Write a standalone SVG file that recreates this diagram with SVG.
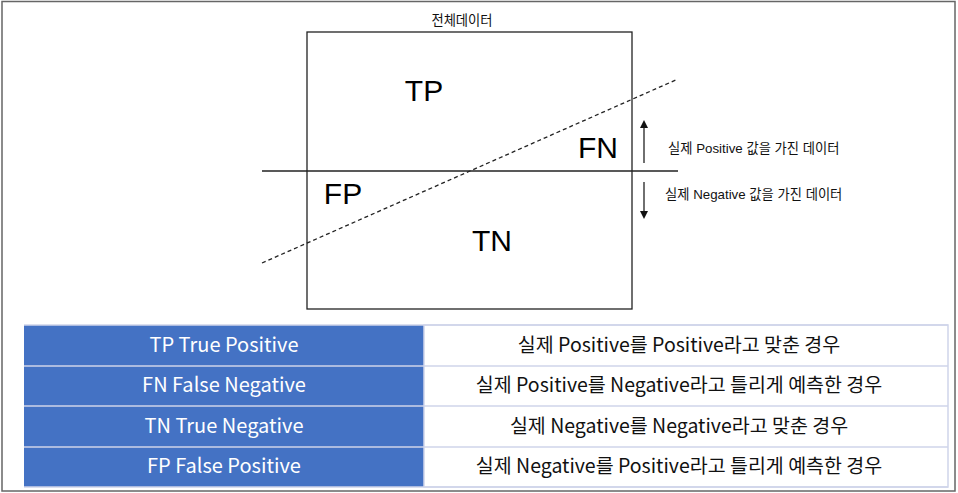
<svg xmlns="http://www.w3.org/2000/svg" width="958" height="493" viewBox="0 0 958 493">
<style>
.big{font-family:"Liberation Sans",Arial,sans-serif;font-size:30px;fill:#000;text-anchor:middle}
.small{font-family:"Liberation Sans","Noto Sans CJK KR",sans-serif;font-size:13.3px;fill:#111}
.hd{font-family:"Noto Sans CJK KR",sans-serif;font-size:20px;fill:#fff;text-anchor:middle}
.cell{font-family:"Noto Sans CJK KR",sans-serif;font-size:19.5px;fill:#111;text-anchor:middle}
.ln{stroke:#222;stroke-width:1.3;fill:none}
</style>
<defs>
<marker id="ah" markerWidth="8" markerHeight="8" refX="4" refY="4" orient="auto" markerUnits="userSpaceOnUse"><path d="M0,0 L8,4 L0,8 z" fill="#111"/></marker>
</defs>
<rect x="0" y="0" width="958" height="493" fill="#fff"/>
<rect x="2" y="1.5" width="953" height="489.5" fill="none" stroke="#666" stroke-width="1.5"/>
<g id="title"><text class="small" x="462" y="25" text-anchor="middle" font-size="13.5">전체데이터</text></g>
<g id="box"><rect x="307" y="32" width="325" height="277" class="ln"/></g>
<g id="connectors">
<line x1="262" y1="171" x2="678" y2="171" class="ln"/>
<line x1="262" y1="263" x2="678" y2="79" stroke="#222" stroke-width="1.3" stroke-dasharray="4,3"/>
<line x1="644" y1="163" x2="644" y2="124" class="ln" marker-end="url(#ah)"/>
<line x1="644" y1="182" x2="644" y2="215" class="ln" marker-end="url(#ah)"/>
</g>
<g id="tp"><text class="big" x="424" y="101">TP</text></g>
<g id="fn"><text class="big" x="598" y="158">FN</text></g>
<g id="fp"><text class="big" x="343" y="204">FP</text></g>
<g id="tn"><text class="big" x="492" y="251">TN</text></g>
<g id="lbl-pos"><text class="small" x="668" y="153">실제 Positive 값을 가진 데이터</text></g>
<g id="lbl-neg"><text class="small" x="665" y="199">실제 Negative 값을 가진 데이터</text></g>
<g id="table">
<rect x="24" y="325" width="400" height="162" fill="#4472c4"/>
<rect x="424" y="325" width="524" height="162" fill="#fff" stroke="#cfd5ea" stroke-width="1.5"/>
<g stroke="#cfd5ea" stroke-width="1.5">
<line x1="24" y1="366" x2="948" y2="366"/>
<line x1="24" y1="406" x2="948" y2="406"/>
<line x1="24" y1="447" x2="948" y2="447"/>
<line x1="24" y1="325" x2="948" y2="325"/>
<line x1="24" y1="487" x2="948" y2="487"/>
</g>
<text class="hd" x="224" y="352">TP True Positive</text>
<text class="hd" x="224" y="392">FN False Negative</text>
<text class="hd" x="224" y="433">TN True Negative</text>
<text class="hd" x="224" y="473">FP False Positive</text>
<text class="cell" x="679" y="352">실제 Positive를 Positive라고 맞춘 경우</text>
<text class="cell" x="679" y="392">실제 Positive를 Negative라고 틀리게 예측한 경우</text>
<text class="cell" x="679" y="433">실제 Negative를 Negative라고 맞춘 경우</text>
<text class="cell" x="679" y="473">실제 Negative를 Positive라고 틀리게 예측한 경우</text>
</g>
</svg>
